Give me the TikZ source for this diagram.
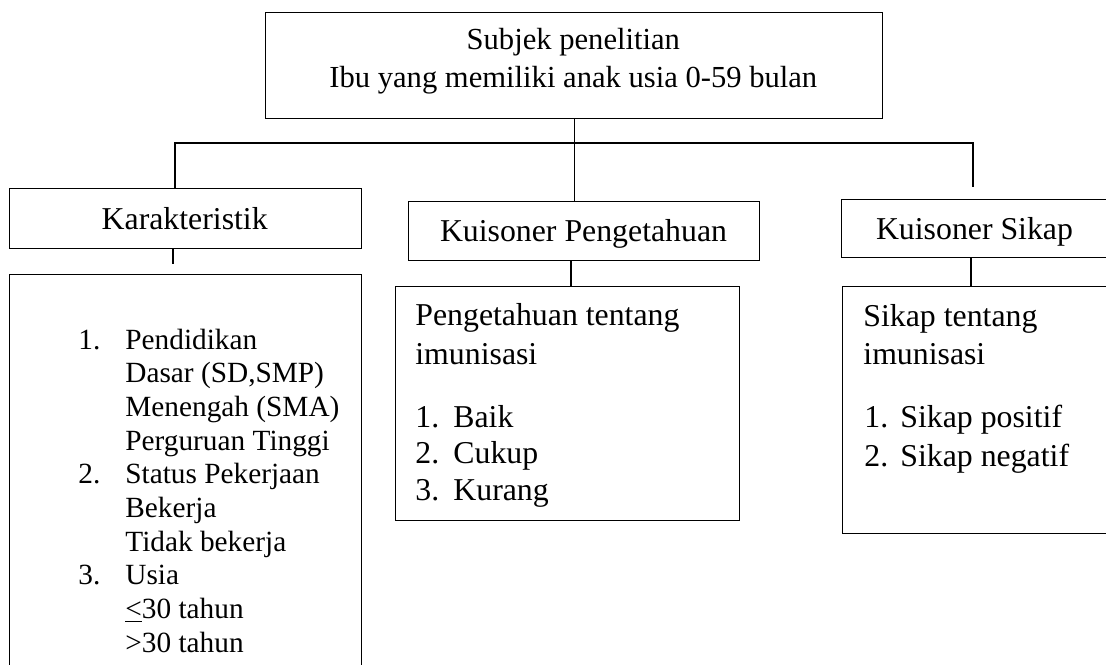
\documentclass[tikz,border=0pt]{standalone}
\usepackage{fontspec}
\setmainfont{Liberation Serif}
\begin{document}
\begin{tikzpicture}[x=0.5pt,y=-0.5pt,
  box/.style={draw=black, line width=0.6pt, inner sep=0pt, anchor=north west},
  conn/.style={draw=black, line width=0.6pt},
  hd/.style={inner sep=0pt, anchor=base, font=\fontsize{15.9}{19}\selectfont},
  toptxt/.style={inner sep=0pt, anchor=base, font=\fontsize{15.3}{18}\selectfont},
  lst/.style={inner sep=0pt, anchor=base west, font=\fontsize{14.65}{17}\selectfont},
  mtxt/.style={inner sep=0pt, anchor=base west, font=\fontsize{15.9}{19}\selectfont}]
\useasboundingbox (0,0) rectangle (1106,664);
\clip (0,0) rectangle (1106,664);

% boxes
\node[box, minimum width=308.5pt, minimum height=53pt] (top) at (265,12) {};
\node[box, minimum width=176pt, minimum height=30pt] (kar) at (9,188) {};
\node[box, minimum width=176pt, minimum height=215pt] (karlow) at (9,274) {};
\node[box, minimum width=175.5pt, minimum height=29.5pt] (kp) at (408,201) {};
\node[box, minimum width=172pt, minimum height=117pt] (kplow) at (395,286) {};
\node[box, minimum width=140pt, minimum height=29pt] (ks) at (841,199) {};
\node[box, minimum width=140pt, minimum height=123.5pt] (kslow) at (842,286) {};

% texts
\node[toptxt] (t1) at (573.3,49.3) {Subjek penelitian};
\node[toptxt] (t2) at (573.3,87.3) {Ibu yang memiliki anak usia 0-59 bulan};

\node[hd] (h1) at (184.7,229) {Karakteristik};
\node[hd] (h2) at (583.5,241.7) {Kuisoner Pengetahuan};
\node[hd] (h3) at (974.5,239) {Kuisoner Sikap};

\node[lst] (n1) at (78,349.3) {1.};
\node[lst] (l1) at (125,349.3) {Pendidikan};
\node[lst] (l2) at (125,382.8) {Dasar (SD,SMP)};
\node[lst] (l3) at (125,416.5) {Menengah (SMA)};
\node[lst] (l4) at (125,450.2) {Perguruan Tinggi};
\node[lst] (n2) at (78,483.6) {2.};
\node[lst] (l5) at (125,483.6) {Status Pekerjaan};
\node[lst] (l6) at (125,517.3) {Bekerja};
\node[lst] (l7) at (125,551) {Tidak bekerja};
\node[lst] (n3) at (78,584.7) {3.};
\node[lst] (l8) at (125,584.7) {Usia};
\node[lst] (l9) at (125,618.3) {\underline{<}30 tahun};
\node[lst] (l10) at (125,652) {>30 tahun};

\node[mtxt] (m1) at (415,325.7) {Pengetahuan tentang};
\node[mtxt] (m2) at (415,364) {imunisasi};
\node[mtxt] (mn1) at (415,427) {1.};
\node[mtxt] (mi1) at (453,427) {Baik};
\node[mtxt] (mn2) at (415,463.5) {2.};
\node[mtxt] (mi2) at (453,463.5) {Cukup};
\node[mtxt] (mn3) at (415,500) {3.};
\node[mtxt] (mi3) at (453,500) {Kurang};

\node[mtxt] (s1) at (863,326.7) {Sikap tentang};
\node[mtxt] (s2) at (863,364) {imunisasi};
\node[mtxt] (sn1) at (864,427) {1.};
\node[mtxt] (si1) at (900,427) {Sikap positif};
\node[mtxt] (sn2) at (864,466) {2.};
\node[mtxt] (si2) at (900,466) {Sikap negatif};

% connectors
\coordinate (busL) at (175,143);
\coordinate (busR) at (973,143);
\coordinate (busRend) at (973,187);
\coordinate (karend) at (173,264);
\coordinate (kpx) at (571,0);
\coordinate (ksx) at (971,0);

\draw[conn] (top.south) -- (top.south |- kp.north);
\draw[conn] (kar.north -| busL) -- (busL) -- (busR) -- (busRend);
\draw[conn] (kar.south -| karend) -- (karend);
\draw[conn] (kp.south -| kpx) -- (kplow.north -| kpx);
\draw[conn] (ks.south -| ksx) -- (kslow.north -| ksx);
\end{tikzpicture}
\end{document}
